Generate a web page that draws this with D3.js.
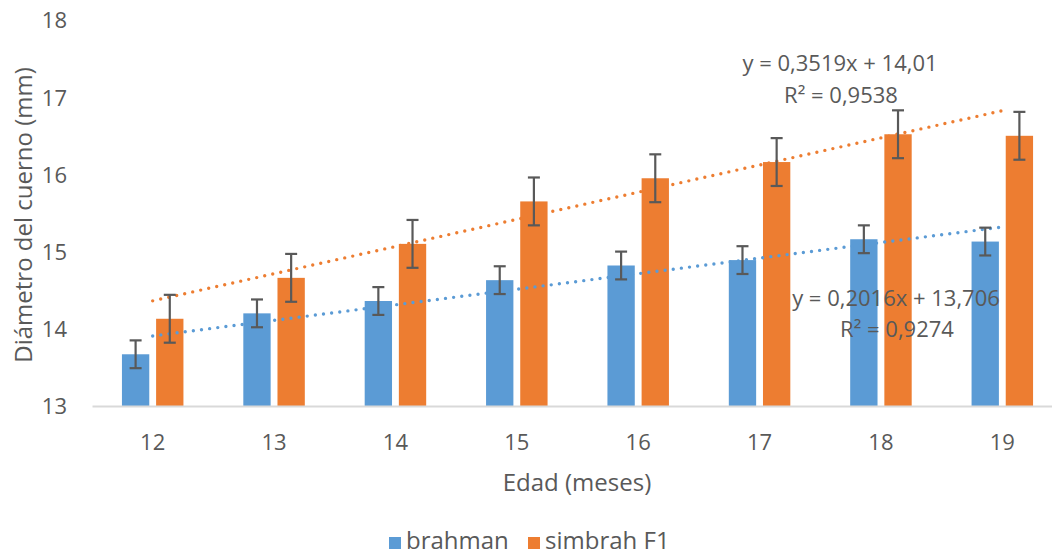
<!DOCTYPE html>
<html>
<head>
<meta charset="utf-8">
<script src="https://cdn.jsdelivr.net/npm/d3@7"></script>
<style>
  html, body { margin: 0; padding: 0; background: #fff; }
  svg { display: block; font-family: "Open Sans", "Noto Sans", sans-serif; }
</style>
</head>
<body>
<svg id="chart" width="1052" height="556"></svg>
<script>
// Horn diameter by age: means, error half-widths and linear trends
const ages = ["12", "13", "14", "15", "16", "17", "18", "19"];
const seriesNames = ["brahman", "simbrah F1"];
const brahman = [13.67, 14.20, 14.36, 14.63, 14.82, 14.89, 15.16, 15.13];
const simbrah = [14.13, 14.66, 15.10, 15.65, 15.95, 16.16, 16.52, 16.50];
const brahmanErr = [0.18, 0.18, 0.18, 0.18, 0.18, 0.18, 0.18, 0.18];
const simbrahErr = [0.31, 0.31, 0.31, 0.31, 0.31, 0.31, 0.31, 0.31];
const yTicks = [13, 14, 15, 16, 17, 18];
const trendSlope = [0.2016, 0.3519];
const trendIntercept = [13.706, 14.01];
const trendEquation = ["y = 0,2016x + 13,706", "y = 0,3519x + 14,01"];
const trendR2 = ["R² = 0,9274", "R² = 0,9538"];

const colors = ["#5B9BD5", "#ED7D31"];
const textColor = "#595959";

const svg = d3.select("#chart");

const x = d3.scaleBand().domain(ages).range([92, 1063]).padding(0);
const sub = d3.scaleBand().domain(seriesNames).range([0, 61.5]).paddingInner(0.2);
const y = d3.scaleLinear().domain([13, 18]).range([406, 20]);

const series = [
  { name: seriesNames[0], values: brahman, err: brahmanErr, color: colors[0] },
  { name: seriesNames[1], values: simbrah, err: simbrahErr, color: colors[1] }
];

const barX = (s, i) => x(ages[i]) + x.bandwidth() / 2 - 30.75 + sub(s.name);

// y axis tick labels (no axis line, no gridlines)
const yAxis = d3.axisLeft(y).tickValues(yTicks).tickSize(0).tickPadding(0)
  .tickFormat(d3.format("d"));
const gy = svg.append("g").attr("transform", "translate(67,0)").call(yAxis);
gy.select(".domain").remove();
gy.selectAll("text")
  .attr("fill", textColor)
  .attr("font-size", 22)
  .attr("font-family", "'Open Sans', sans-serif")
  .attr("dy", "0.36em");

// bars
series.forEach(s => {
  svg.append("g").selectAll("rect")
    .data(s.values)
    .join("rect")
    .attr("x", (d, i) => barX(s, i))
    .attr("width", sub.bandwidth())
    .attr("y", d => y(d))
    .attr("height", d => y(13) - y(d))
    .attr("fill", s.color);
});

// category axis
const xAxis = d3.axisBottom(x).tickSize(0).tickPadding(0);
const gx = svg.append("g").attr("transform", "translate(0,406)").call(xAxis);
gx.select(".domain").attr("stroke", "#D9D9D9").attr("stroke-width", 2);
gx.selectAll("text")
  .attr("fill", textColor)
  .attr("font-size", 22)
  .attr("font-family", "'Open Sans', sans-serif")
  .attr("dy", null)
  .attr("y", 44);

// linear trend lines (dotted), from the fitted equations over x = 1..8
const trendLine = d3.line()
  .x(d => x(ages[d.i]) + x.bandwidth() / 2)
  .y(d => y(d.v));
series.forEach((s, k) => {
  const pts = ages.map((a, i) => ({ i, v: trendIntercept[k] + trendSlope[k] * (i + 1) }));
  svg.append("path")
    .datum([pts[0], pts[pts.length - 1]])
    .attr("d", trendLine)
    .attr("fill", "none")
    .attr("stroke", s.color)
    .attr("stroke-width", 3.4)
    .attr("stroke-linecap", "round")
    .attr("stroke-dasharray", "0 8.2");
});

// error bars
series.forEach(s => {
  const g = svg.append("g").attr("stroke", "#595959").attr("stroke-width", 2.2);
  s.values.forEach((v, i) => {
    const cx = barX(s, i) + sub.bandwidth() / 2;
    const y1 = y(v + s.err[i]), y0 = y(v - s.err[i]);
    g.append("line").attr("x1", cx).attr("x2", cx).attr("y1", y1).attr("y2", y0);
    g.append("line").attr("x1", cx - 6).attr("x2", cx + 6).attr("y1", y1).attr("y2", y1);
    g.append("line").attr("x1", cx - 6).attr("x2", cx + 6).attr("y1", y0).attr("y2", y0);
  });
});

// trend equation labels
const eqPos = [
  { cx: 896, b1: 306, b2: 337 },
  { cx: 840, b1: 71, b2: 103 }
];
eqPos.forEach((p, k) => {
  svg.append("text").attr("x", p.cx).attr("y", p.b1)
    .attr("text-anchor", "middle").attr("font-size", 22).attr("fill", textColor)
    .text(trendEquation[k]);
  svg.append("text").attr("x", p.cx + 1).attr("y", p.b2)
    .attr("text-anchor", "middle").attr("font-size", 22).attr("fill", textColor)
    .text(trendR2[k]);
});

// axis titles
svg.append("text")
  .attr("transform", "translate(32,215) rotate(-90)")
  .attr("text-anchor", "middle").attr("font-size", 24).attr("fill", textColor)
  .text("Diámetro del cuerno (mm)");
svg.append("text")
  .attr("x", 577).attr("y", 491)
  .attr("text-anchor", "middle").attr("font-size", 24).attr("fill", textColor)
  .text("Edad (meses)");

// legend
const legendX = [389, 528];
series.forEach((s, k) => {
  svg.append("rect").attr("x", legendX[k]).attr("y", 537)
    .attr("width", 12).attr("height", 12).attr("fill", s.color);
  svg.append("text").attr("x", legendX[k] + 17).attr("y", 549)
    .attr("font-size", 24).attr("fill", textColor)
    .text(s.name);
});
</script>
</body>
</html>
